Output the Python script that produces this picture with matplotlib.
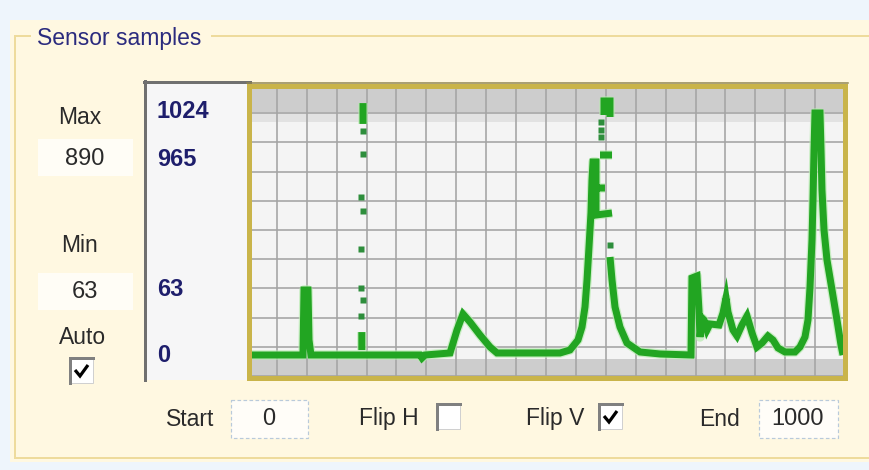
import matplotlib
matplotlib.use('Agg')
import matplotlib.pyplot as plt
import numpy as np
from matplotlib.patches import Rectangle

nan = np.nan

# ---------------- data ----------------
x_start, x_end = 0, 1000
y_low, y_high = 0, 1024
scale_labels = ['1024', '965', '63', '0']
max_value = '890'
min_value = '63'
start_value = '0'
end_value = '1000'

# continuous parts of the sensor trace (NaN separates pieces)
trace_x = [0, 93.6, 95.3, 102, 103.7, 107, 289.3, 292.6, 297.7, 339.5, 351.2, 361.2,
           372.9, 389.6, 406.4, 418.1, 523.4, 540.1, 553.5, 560.2, 565.2, 568.6, 571.9,
           575.2, 576.9, 578.6, 583.6, 583.6, 610.4, nan,
           585.3, 598.6, nan,
           590.3, 610.4, nan,
           597, 597, 607, 607, nan,
           607, 610.4, 615.4, 623.7, 635.4, 657.2, 690.6, 742.5, 744.1, 752.5, 755.8,
           757.5, 760.9, 764.2, 769.2, 774.2, 789.3, 796, 801, 804.3, 812.7, 819.4,
           827.7, 836.1, 844.5, 852.8, 861.2, 871.2, 879.6, 888, 899.7, 916.4, 924.7,
           933.1, 938.1, 941.5, 944.8, 946.5, 948.2, 949.8, 958.2, 959.9, 961.5, 964.9,
           969.9, 978.3, 986.6, 993.3, 996.7, nan,
           194, 194, nan,
           192, 192]
trace_y = [73.6, 73.6, 301.6, 301.6, 126.2, 73.6, 73.6, 63.1, 73.6, 80.7, 161.3, 217.4,
           189.4, 143.8, 101.7, 80.7, 80.7, 91.2, 126.2, 171.8, 242, 336.7, 452.4,
           571.6, 687.3, 750.5, 750.5, 564.6, 571.6, nan,
           659.3, 659.3, nan,
           775, 775, nan,
           915.3, 964.4, 964.4, 908.3, nan,
           417.3, 336.7, 242, 171.8, 115.7, 84.2, 77.2, 73.6, 343.7, 350.7, 231.4,
           136.8, 203.4, 196.4, 161.3, 182.4, 178.8, 220.9, 273.5, 224.4, 161.3, 140.3,
           178.8, 210.4, 150.8, 101.7, 115.7, 140.3, 126.2, 98.2, 84.2, 84.2, 101.7,
           136.8, 196.4, 312.1, 476.9, 617.2, 792.5, 922.3, 922.3, 792.5, 652.3, 512,
           406.8, 301.6, 196.4, 108.7, 73.6, nan,
           957, 884, nan,
           154, 91]

# isolated samples (fast transitions)
dot_x = [194, 194, 190.6, 194, 190.6, 190.6, 194, 190.6, 592, 592, 592, 607]
dot_y = [859.2, 778.5, 627.7, 578.6, 445.4, 308.6, 266.5, 210.4, 890.7, 862.7, 838.1, 459.4]

# ---------------- figure ----------------
W, H = 870, 470
fig = plt.figure(figsize=(W / 100, H / 100), dpi=100)
fig.patch.set_facecolor('#EEF5FC')
PX = 72 / 100  # points per pixel

FONT = ['Liberation Sans', 'DejaVu Sans']
plt.rcParams['font.family'] = FONT

# background overlay in pixel coordinates
bg = fig.add_axes([0, 0, 1, 1], zorder=0)
bg.set_xlim(0, W)
bg.set_ylim(H, 0)
bg.axis('off')

bg.add_patch(Rectangle((10, 20), 860, 442, fc='#FFF8E1', ec='none'))
gold_line = '#EEDB9C'
bg.plot([15, 30], [36, 36], color=gold_line, lw=2 * PX)
bg.plot([212, 870], [36, 36], color=gold_line, lw=2 * PX)
bg.plot([15, 15], [36, 458], color=gold_line, lw=2 * PX)
bg.plot([15, 870], [458, 458], color=gold_line, lw=2 * PX)
bg.text(37, 38, 'Sensor samples', color='#2B2B7E', fontsize=16.5, va='center', ha='left')

txt = '#2A2A2A'
bg.text(80, 117, 'Max', color=txt, fontsize=16.5, ha='center', va='center')
bg.add_patch(Rectangle((38, 139), 95, 37, fc='#FFFDF6', ec='none'))
bg.text(85, 159, max_value, color=txt, fontsize=17, ha='center', va='center')
bg.text(80, 245, 'Min', color=txt, fontsize=16.5, ha='center', va='center')
bg.add_patch(Rectangle((38, 273), 95, 37, fc='#FFFDF6', ec='none'))
bg.text(85, 292, min_value, color=txt, fontsize=17, ha='center', va='center')
bg.text(83, 338, 'Auto', color=txt, fontsize=16.5, ha='center', va='center')

# label panel
bg.add_patch(Rectangle((145, 82), 105, 298, fc='#F6F6F7', ec='none'))
bg.plot([145, 145], [81, 380], color='#707070', lw=3 * PX)
bg.plot([144, 250], [82, 82], color='#707070', lw=3 * PX)
navy = '#1E1E6C'
label_y = [112, 160, 290, 355]
for lab, yy in zip(scale_labels, label_y):
    bg.text(157, yy, lab, color=navy, fontsize=17, fontweight='bold', ha='left', va='center')

# bottom row
row_y = 419
bg.text(166, row_y, 'Start', color=txt, fontsize=16.5, ha='left', va='center')
bg.add_patch(Rectangle((231, 400), 77, 38, fc='#FFFDF8', ec='#B9CADB', lw=1.2 * PX, ls=(0, (3, 2))))
bg.text(269, row_y, start_value, color=txt, fontsize=17, ha='center', va='center')
bg.text(359, row_y, 'Flip H', color=txt, fontsize=16.5, ha='left', va='center')
bg.text(526, row_y, 'Flip V', color=txt, fontsize=16.5, ha='left', va='center')
bg.text(699, row_y, 'End', color=txt, fontsize=16.5, ha='left', va='center')
bg.add_patch(Rectangle((759, 400), 79, 38, fc='#FFFDF8', ec='#B9CADB', lw=1.2 * PX, ls=(0, (3, 2))))
bg.text(798, row_y, end_value, color=txt, fontsize=17, ha='center', va='center')


def checkbox(ax, x, y, checked, w=23, h=25):
    ax.add_patch(Rectangle((x, y), w, h, fc='#FFFFFF', ec='#D0D0D0', lw=1 * PX))
    ax.plot([x, x, x + w], [y + h, y, y], color='#808080', lw=3 * PX, solid_joinstyle='miter')
    if checked:
        ax.plot([x + 5, x + 10, x + 18], [y + 12, y + 18, y + 7], color='black',
                lw=3.2 * PX, solid_joinstyle='miter', solid_capstyle='butt')


checkbox(bg, 70, 358, True)
checkbox(bg, 437, 404, False)
checkbox(bg, 599, 404, True)

# ---------------- plot ----------------
left, right, top, bottom = 247, 845, 84, 376
ax = fig.add_axes([left / W, 1 - bottom / H, (right - left) / W, (bottom - top) / H], zorder=1)
ax.set_facecolor('#F4F4F4')
ax.set_xlim(x_start, x_end)
ax.set_ylim(y_low, y_high)
ax.axhspan(925, 1024, color='#CDCDCD', lw=0, zorder=0.5)
ax.axhspan(890, 925, color='#E2E2E2', lw=0, zorder=0.5)
ax.axhspan(0, 60, color='#CDCDCD', lw=0, zorder=0.5)
ax.set_xticks(np.arange(x_start, x_end + 1, 50))
ax.set_yticks(np.arange(y_low, y_high + 1, 102.4))
ax.grid(True, color='#A4A4A4', lw=1.6 * PX)
ax.set_axisbelow(False)
ax.tick_params(length=0, labelbottom=False, labelleft=False)
for s in ax.spines.values():
    s.set_visible(False)

ax.plot(trace_x, trace_y, color='#B8EBB0', lw=9.5 * PX, solid_capstyle='butt', zorder=3, alpha=0.7)
ax.plot(trace_x, trace_y, color='#22A522', lw=7 * PX, solid_capstyle='butt',
        solid_joinstyle='miter', zorder=4)
ax.plot(dot_x, dot_y, ls='none', marker='s', ms=6.5 * PX, color='#2E8E3C', mec='none', zorder=4)

# gold frame on top
fg = fig.add_axes([0, 0, 1, 1], zorder=2)
fg.set_xlim(0, W)
fg.set_ylim(H, 0)
fg.axis('off')
fg.patch.set_alpha(0)
fg.add_patch(Rectangle((249.5, 86), 596, 291.5, fc='none', ec='#C9B44A', lw=5 * PX))
fg.plot([247, 848], [82.5, 82.5], color='#8E8350', lw=1.5 * PX)

fig.savefig('out.png', dpi=100, facecolor=fig.get_facecolor())
